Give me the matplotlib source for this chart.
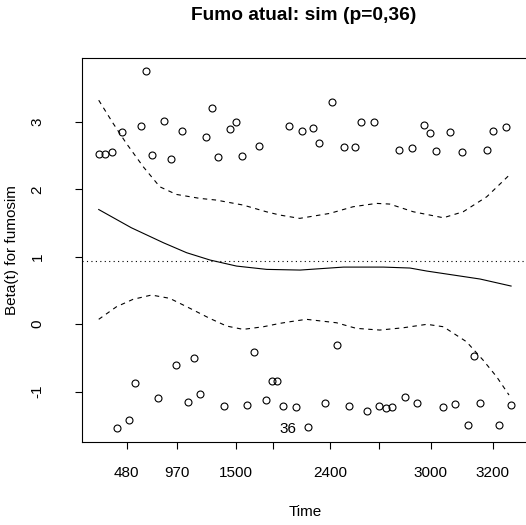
import numpy as np
import matplotlib
matplotlib.use('Agg')
import matplotlib.pyplot as plt

plt.rcParams['font.family'] = ['Liberation Sans', 'DejaVu Sans']

# scaled Schoenfeld residuals, time on transformed (0-1) scale
x_up = [0.000, 0.015, 0.031, 0.057, 0.102, 0.115, 0.129, 0.159, 0.175, 0.201,
        0.261, 0.274, 0.288, 0.318, 0.333, 0.348, 0.389, 0.462, 0.492, 0.519,
        0.534, 0.565, 0.594, 0.620, 0.636, 0.666, 0.728, 0.758, 0.787, 0.803,
        0.817, 0.850, 0.879, 0.941, 0.956, 0.986]
y_up = [2.517, 2.521, 2.547, 2.852, 2.941, 3.747, 2.502, 3.006, 2.447, 2.867,
        2.773, 3.203, 2.473, 2.896, 2.996, 2.487, 2.640, 2.932, 2.867, 2.911,
        2.684, 3.292, 2.625, 2.625, 2.991, 3.000, 2.581, 2.610, 2.947, 2.828,
        2.566, 2.843, 2.551, 2.581, 2.867, 2.926]
x_low = [0.044, 0.073, 0.087, 0.144, 0.187, 0.216, 0.231, 0.246, 0.303, 0.360,
         0.375, 0.405, 0.419, 0.432, 0.447, 0.477, 0.506, 0.549, 0.578, 0.606,
         0.651, 0.679, 0.695, 0.710, 0.742, 0.772, 0.835, 0.864, 0.894, 0.908,
         0.923, 0.970, 1.000]
y_low = [-1.538, -1.415, -0.871, -1.098, -0.600, -1.157, -0.496, -1.039, -1.207, -1.193,
         -0.416, -1.127, -0.841, -0.841, -1.207, -1.222, -1.523, -1.172, -0.308, -1.207,
         -1.281, -1.207, -1.246, -1.231, -1.083, -1.172, -1.222, -1.187, -1.493, -0.467,
         -1.172, -1.493, -1.193]

# smoothed beta(t)
fit_x = [0.000, 0.079, 0.157, 0.213, 0.270, 0.334, 0.407, 0.488, 0.593, 0.690,
         0.754, 0.795, 0.876, 0.924, 0.999]
fit_y = [1.70, 1.43, 1.207, 1.06, 0.951, 0.862, 0.813, 0.803, 0.847, 0.847,
         0.833, 0.788, 0.714, 0.67, 0.566]

ci_up_x = [0.000, 0.035, 0.067, 0.108, 0.148, 0.188, 0.245, 0.285, 0.350, 0.406,
           0.439, 0.463, 0.487, 0.560, 0.616, 0.673, 0.705, 0.762, 0.835, 0.883,
           0.940, 0.999]
ci_up_y = [3.32, 2.976, 2.68, 2.333, 2.037, 1.924, 1.865, 1.84, 1.766, 1.667,
           1.618, 1.593, 1.569, 1.643, 1.741, 1.791, 1.781, 1.667, 1.578, 1.667,
           1.889, 2.236]
ci_low_x = [0.000, 0.043, 0.083, 0.128, 0.172, 0.221, 0.269, 0.310, 0.350, 0.399,
            0.439, 0.463, 0.503, 0.576, 0.624, 0.681, 0.738, 0.795, 0.835, 0.891,
            0.931, 0.964, 0.994]
ci_low_y = [0.073, 0.259, 0.369, 0.433, 0.384, 0.236, 0.087, -0.027, -0.076, -0.037,
            0.013, 0.037, 0.073, 0.022, -0.061, -0.086, -0.052, -0.001, -0.037, -0.259,
            -0.53, -0.778, -1.049]

coef = 0.94

tick_pos = [0.068, 0.189, 0.333, 0.423, 0.561, 0.679, 0.804, 0.954]
tick_lab = ['480', '970', '1500', '', '2400', '', '3000', '3200']
y_ticks = [-1, 0, 1, 2, 3]

fig = plt.figure(figsize=(5.26, 5.25), dpi=100)
ax = fig.add_axes([82/526, 83/525, 446/526, 384.3/525])

ax.plot(x_up + x_low, y_up + y_low, 'o', mfc='none', mec='black', ms=5, mew=0.8, ls='none')
ax.plot(fit_x, fit_y, color='black', lw=0.8)
ax.plot(ci_up_x, ci_up_y, color='black', lw=0.8, ls=(0, (4, 4)))
ax.plot(ci_low_x, ci_low_y, color='black', lw=0.8, ls=(0, (4, 4)))
ax.axhline(coef, color='black', lw=0.8, ls=(0, (1, 3)))

# label for observation 36
ax.annotate('36', xy=(x_low[16], y_low[16]), xytext=(-14, -1.5), textcoords='offset points',
            ha='center', va='center', fontsize=11)

ax.set_xlim(-0.0405, 1.04)
ax.set_ylim(-1.745, 3.95)
ax.set_xticks(tick_pos)
ax.set_xticklabels(tick_lab)
ax.set_yticks(y_ticks)
ax.set_yticklabels([str(v) for v in y_ticks], rotation=90, va='center', ha='center')
ax.tick_params(axis='x', length=5, width=0.8, labelsize=11, pad=12)
ax.tick_params(axis='y', length=5, width=0.8, labelsize=11, pad=27)
for s in ax.spines.values():
    s.set_linewidth(0.8)

fig.text(305/526, 1 - 512/525, 'Time', ha='center', va='center', fontsize=11)
fig.text(12/526, 1 - 250/525, 'Beta(t) for fumosim', ha='center', va='center',
         rotation=90, fontsize=11)
fig.text(304/526, 1 - 16/525, 'Fumo atual: sim (p=0,36)', ha='center', va='center',
         fontsize=13.8, fontweight='bold')

fig.savefig('out.png', dpi=100)
